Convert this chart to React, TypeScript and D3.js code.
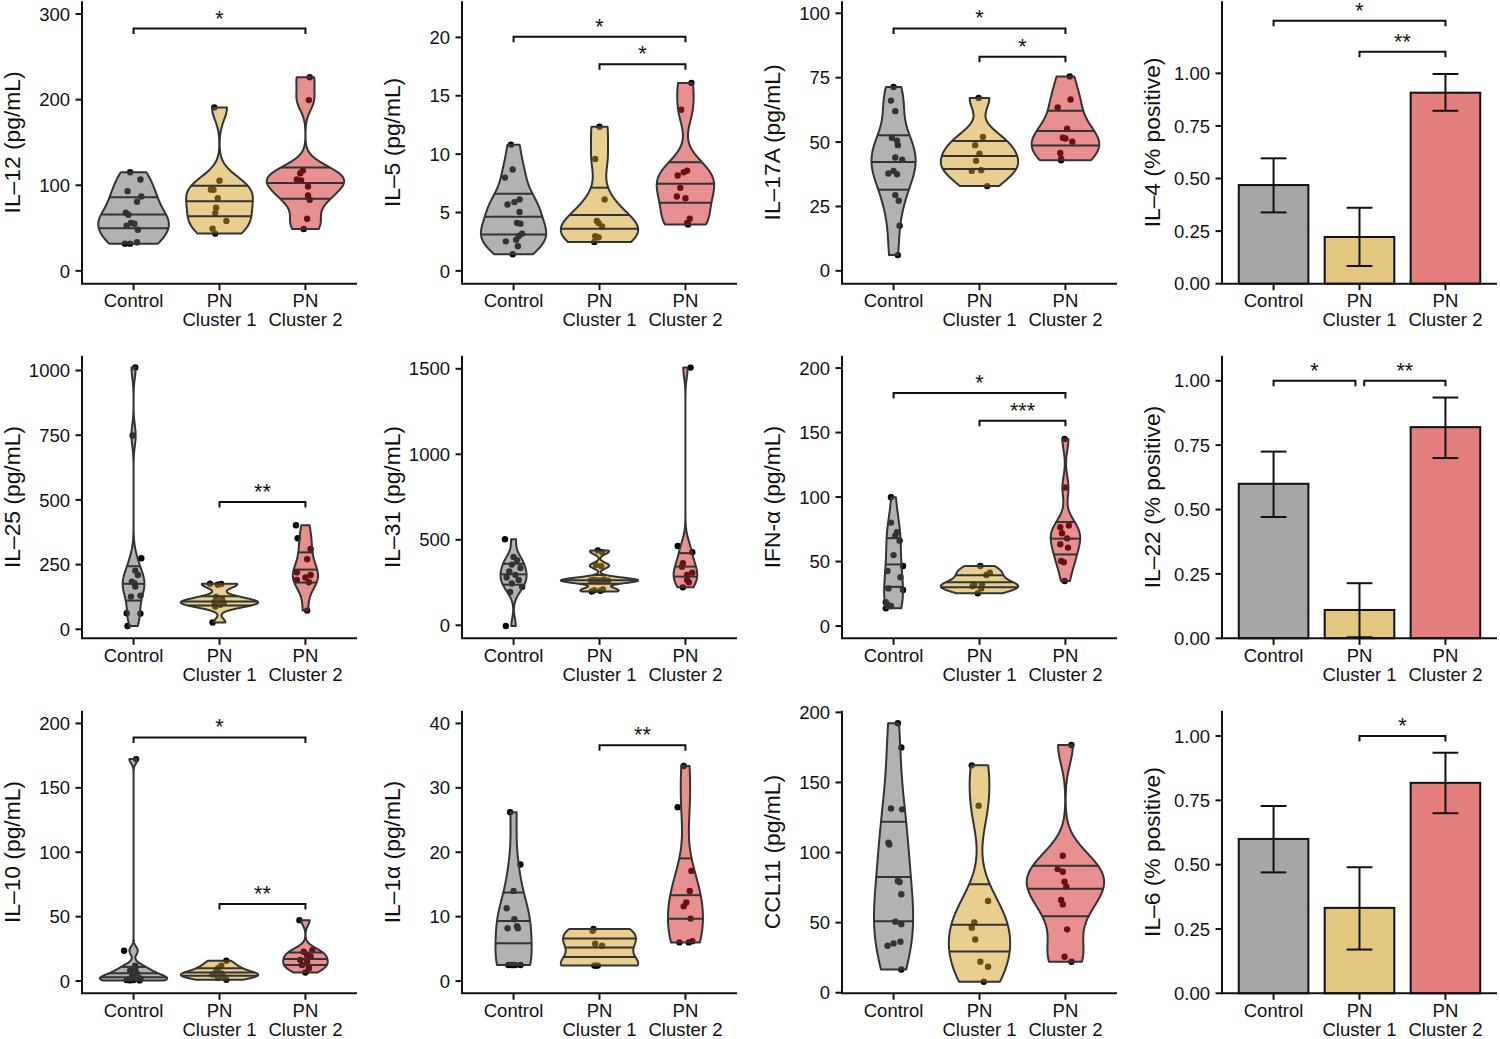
import React from "react";
import * as d3 from "d3";

const groupLines = [["Control"], ["PN", "Cluster 1"], ["PN", "Cluster 2"]];
const baseColors = ["#666666", "#d19f21", "#d12121"];

// each point: [value, jitter in category units]
const il12Control = [[115.2, -0.04], [106.7, 0.08], [93.1, -0.07], [86.9, 0.09], [80.7, 0.04], [67.9, -0.09], [65.6, -0.06], [55.9, -0.03], [55.1, 0.01], [52.8, -0.08], [48.1, 0.05], [33.4, 0.04], [31.8, -0.1], [31.8, -0.04]];
const il12Pn1 = [[190.9, -0.06], [105.2, 0], [95.1, -0.1], [94.7, -0.07], [85, -0.02], [73.7, -0.04], [67.5, -0.05], [58.2, 0.08], [49.3, -0.08], [43.5, -0.05]];
const il12Pn2 = [[226.2, 0.05], [199.5, 0.04], [117.2, -0.03], [114.1, -0.06], [106.7, -0.1], [105.5, -0.05], [98.6, 0.03], [88.1, 0.03], [83, 0.05], [60.9, 0.02], [48.9, -0.02]];

const il5Control = [[10.81, -0.03], [8.68, -0.01], [7.99, -0.1], [6.12, 0.07], [5.89, 0.01], [5.69, -0.07], [5.04, 0.07], [4.1, 0.04], [4.04, 0.08], [3.19, 0.1], [2.99, 0.06], [2.67, 0.03], [2.53, -0.09], [2.11, 0.05], [1.42, -0.01]];
const il5Pn1 = [[12.35, 0], [9.59, -0.05], [6.12, 0.06], [4.27, -0.03], [4.1, -0.01], [3.81, 0.03], [2.96, -0.05], [2.87, -0.01], [2.48, -0.06]];
const il5Pn2 = [[16.1, 0.07], [13.8, -0.05], [8.59, 0.02], [8.45, -0.02], [8.17, -0.09], [7.11, -0.06], [6.37, -0.1], [6.23, 0], [4.47, 0.05], [4.1, 0.02], [3.98, 0.03]];

const il17Control = [[71.4, 0], [66.1, -0.03], [62, 0.02], [51.7, -0.02], [50.5, 0.04], [48.8, 0.05], [44, 0.02], [43.2, 0.1], [38.8, 0], [37.8, -0.06], [37.5, 0.04], [29.4, 0.02], [27.2, 0.06], [17.5, 0.07], [6.1, 0.05]];
const il17Pn1 = [[67.1, -0.01], [52, 0.04], [48.8, -0.05], [45.5, 0], [42.7, -0.04], [39.1, 0.02], [38.8, -0.09], [32.9, 0.09]];
const il17Pn2 = [[75.5, 0.05], [66.5, 0.06], [63.4, -0.09], [55.2, 0.02], [51.7, -0.03], [51.4, 0], [50.1, 0.08], [45.8, -0.06], [43.5, -0.05], [42.9, -0.05]];

const il25Control = [[1011.6, 0.02], [748.7, -0.01], [274.5, 0.09], [226.8, 0.02], [210, 0.05], [184.3, -0.02], [177.8, 0.01], [165, 0.02], [130.2, 0.08], [126.3, -0.03], [61.9, -0.08], [60.6, 0.08], [12.9, -0.07]];
const il25Pn1 = [[176, -0.11], [175, 0.02], [172, -0.02], [125, -0.04], [115, 0.03], [108, 0.02], [105, -0.06], [102, 0.05], [100, -0.03], [95, 0.01], [88, -0.05], [26, -0.08]];
const il25Pn2 = [[402, -0.11], [351.8, -0.09], [310.6, 0.06], [270.6, 0.02], [220, -0.1], [210, 0.06], [200, 0], [190.7, -0.1], [181.7, 0.04], [72.2, 0.02]];

const il31Control = [[503, -0.1], [400, 0], [380, 0.04], [355, -0.02], [335, 0.08], [315, -0.05], [295, 0.02], [280, -0.08], [265, 0.06], [245, -0.02], [225, 0.1], [195, -0.04], [-4, -0.09]];
const il31Pn1 = [[437, -0.02], [428, 0.03], [352, -0.04], [346, 0.02], [268, 0.05], [266, -0.07], [264, -0.03], [263, 0.02], [262, -0.1], [261, 0.1], [259, 0.06], [257, 0], [210, 0.04], [206, -0.06], [202, 0.01], [198, -0.09]];
const il31Pn2 = [[1507, 0.06], [464, -0.09], [427, 0.08], [363, -0.03], [343, -0.04], [308, 0.08], [295, 0.02], [265, 0.02], [252, 0.04], [222, -0.03]];

const ifnControl = [[99.9, -0.03], [80.2, -0.03], [72.7, 0.04], [70, 0.02], [66.2, 0.07], [55, 0], [46.6, 0.11], [42.7, -0.07], [37.8, 0.08], [29.2, -0.06], [27.9, 0.11], [18.4, -0.09], [16.8, -0.07], [15.5, -0.03], [13.7, -0.09]];
const ifnPn1 = [[46.6, 0.01], [41.4, 0.12], [39.6, 0.08], [32.3, -0.06], [31.8, 0.03], [31, -0.08], [29.2, 0.02], [25.4, -0.02]];
const ifnPn2 = [[145, -0.01], [107.4, 0], [77.9, 0.04], [76.6, -0.06], [71.9, -0.04], [68, 0.02], [63.4, -0.06], [60.8, 0.03], [50.5, -0.05], [49.4, -0.02], [34.9, -0.01]];

const il10Control = [[172.3, 0.03], [23.5, -0.11], [12, 0.02], [9.3, 0.02], [8, -0.04], [6, 0.04], [4, -0.01], [3.4, -0.02], [2, 0.08], [1, -0.06], [0.8, -0.08], [0.8, 0], [0.5, 0.07], [0.5, -0.04]];
const il10Pn1 = [[15.8, 0.08], [12, 0.02], [9.8, -0.02], [7, -0.04], [6, 0.02], [5, -0.08], [4, 0.04], [2.5, -0.02], [1, 0.08]];
const il10Pn2 = [[47.3, -0.07], [24, 0.08], [22.8, -0.02], [20, 0.02], [18.9, 0.06], [16.3, -0.06], [15, 0.02], [12.4, -0.04], [11, 0.04], [9.8, 0.04], [6.7, 0]];

const il1aControl = [[26.2, -0.04], [18.1, 0.08], [14, 0], [11.3, -0.08], [9.6, 0.01], [8.5, 0.04], [8.2, -0.07], [8.2, 0.05], [2.5, -0.06], [2.5, -0.02], [2.5, 0.02], [2.5, 0.08], [2.5, 0]];
const il1aPn1 = [[8.1, -0.07], [7.8, -0.08], [5.8, -0.05], [5.5, 0.03], [2.4, -0.06], [2.4, -0.04], [2.4, -0.02]];
const il1aPn2 = [[33.4, -0.02], [27, -0.09], [17.1, 0.07], [14, 0.05], [12.2, 0.01], [11.6, -0.02], [9.7, 0.06], [6.2, 0.08], [6, 0.04], [6, -0.07]];

const ccl11Control = [[192.2, 0.05], [175, 0.09], [131.5, -0.03], [130.8, 0.1], [107, -0.06], [105.8, -0.05], [79.7, 0.05], [79, 0.07], [70.2, 0.09], [50.7, 0.02], [48.8, 0.09], [36.4, 0.08], [35.2, 0], [33.5, -0.07], [16.6, 0.09]];
const ccl11Pn1 = [[162.2, -0.09], [133.4, -0.01], [65.4, 0.1], [50.2, -0.06], [46.4, -0.09], [38, -0.05], [22.1, 0.01], [18.5, 0.1], [7.8, 0.05]];
const ccl11Pn2 = [[176.7, 0.07], [97.7, -0.03], [88.2, -0.09], [86.3, -0.03], [79.2, -0.01], [75.6, 0.01], [66.1, -0.05], [63, -0.03], [45.2, 0.02], [25.7, -0.01], [22.1, 0.07]];

// proportion positive: mean, lower, upper
const il4Mean = [0.469, 0.222, 0.908];
const il4Lo = [0.339, 0.084, 0.822];
const il4Hi = [0.596, 0.361, 0.997];
const il22Mean = [0.6, 0.11, 0.82];
const il22Lo = [0.471, 0.004, 0.7];
const il22Hi = [0.725, 0.214, 0.935];
const il6Mean = [0.6, 0.332, 0.818];
const il6Lo = [0.47, 0.17, 0.7];
const il6Hi = [0.728, 0.49, 0.935];

// significance brackets: [from, to, y, label]
const il12Sig = [[1, 3, 283, "*"]];
const il5Sig = [[1, 3, 20.05, "*"], [2, 3, 17.7, "*"]];
const il17Sig = [[1, 3, 94.1, "*"], [2, 3, 83.1, "*"]];
const il4Sig = [[1, 3, 1.25, "*"], [2, 3, 1.103, "**"]];
const il25Sig = [[2, 3, 492, "**"]];
const ifnSig = [[1, 3, 180.6, "*"], [2, 3, 159.1, "***"]];
const il22Sig = [[1, 1.953, 1.0, "*"], [2.055, 3, 1.0, "**"]];
const il10Sig = [[1, 3, 189.1, "*"], [2, 3, 59.8, "**"]];
const il1aSig = [[2, 3, 36.6, "**"]];
const il6Sig = [[2, 3, 1.0, "*"]];

const countTicks = [0, 100, 200, 300];
const il5Ticks = [0, 5, 10, 15, 20];
const il17Ticks = [0, 25, 50, 75, 100];
const il25Ticks = [0, 250, 500, 750, 1000];
const il31Ticks = [0, 500, 1000, 1500];
const by50Ticks = [0, 50, 100, 150, 200];
const il1aTicks = [0, 10, 20, 30, 40];
const propTicks = [0, 0.25, 0.5, 0.75, 1];

const panels = [
  { row: 0, col: 0, kind: "violin", title: "IL\u201312 (pg/mL)", data: [il12Control, il12Pn1, il12Pn2], domain: [-15, 315], ticks: countTicks, sig: il12Sig },
  { row: 0, col: 1, kind: "violin", title: "IL\u20135 (pg/mL)", data: [il5Control, il5Pn1, il5Pn2], domain: [-1.1, 23.1], ticks: il5Ticks, sig: il5Sig },
  { row: 0, col: 2, kind: "violin", title: "IL\u201317A (pg/mL)", data: [il17Control, il17Pn1, il17Pn2], domain: [-5, 104.7], ticks: il17Ticks, sig: il17Sig },
  { row: 0, col: 3, kind: "bar", title: "IL\u20134 (% positive)", mean: il4Mean, lo: il4Lo, hi: il4Hi, domain: [0, 1.343], ticks: propTicks, sig: il4Sig },
  { row: 1, col: 0, kind: "violin", title: "IL\u201325 (pg/mL)", data: [il25Control, il25Pn1, il25Pn2], domain: [-34.8, 1056.8], ticks: il25Ticks, sig: il25Sig },
  { row: 1, col: 1, kind: "violin", title: "IL\u201331 (pg/mL)", data: [il31Control, il31Pn1, il31Pn2], domain: [-76, 1576], ticks: il31Ticks, sig: [] },
  { row: 1, col: 2, kind: "violin", title: "IFN-\u03b1 (pg/mL)", data: [ifnControl, ifnPn1, ifnPn2], domain: [-9.5, 209.5], ticks: by50Ticks, sig: ifnSig },
  { row: 1, col: 3, kind: "bar", title: "IL\u201322 (% positive)", mean: il22Mean, lo: il22Lo, hi: il22Hi, domain: [0, 1.097], ticks: propTicks, sig: il22Sig },
  { row: 2, col: 0, kind: "violin", title: "IL\u201310 (pg/mL)", data: [il10Control, il10Pn1, il10Pn2], domain: [-9.5, 209.8], ticks: by50Ticks, sig: il10Sig },
  { row: 2, col: 1, kind: "violin", title: "IL\u20131\u03b1 (pg/mL)", data: [il1aControl, il1aPn1, il1aPn2], domain: [-1.9, 41.96], ticks: il1aTicks, sig: il1aSig },
  { row: 2, col: 2, kind: "violin", title: "CCL11 (pg/mL)", data: [ccl11Control, ccl11Pn1, ccl11Pn2], domain: [-0.4, 201.1], ticks: by50Ticks, sig: [] },
  { row: 2, col: 3, kind: "bar", title: "IL\u20136 (% positive)", mean: il6Mean, lo: il6Lo, hi: il6Hi, domain: [0, 1.098], ticks: propTicks, sig: il6Sig },
];

const rowBottom = [283.7, 638.3, 993.3];
const panelH = 282.5;
const colAxis = [82, 462, 842, 1222];
const colLeft = [0, 380, 760, 1140];
const plotW = 275;
const ink = "#111";
const outline = "#333";

// gaussian kde like R density(bw = "nrd0"), trimmed to data range
function kde(values: number[]) {
  const v = values.slice().sort(d3.ascending);
  const n = v.length;
  const sd = d3.deviation(v) || 1;
  const iqr = (d3.quantileSorted(v, 0.75) as number) - (d3.quantileSorted(v, 0.25) as number);
  let lo = Math.min(sd, iqr / 1.34);
  if (!(lo > 0)) lo = sd || 1;
  const bw = 0.9 * lo * Math.pow(n, -0.2);
  const [mn, mx] = d3.extent(v) as [number, number];
  const grid = d3.range(512).map((k) => mn + ((mx - mn) * k) / 511);
  const dens = grid.map((g) => d3.sum(v, (x) => Math.exp(-0.5 * ((g - x) / bw) ** 2)) / (n * bw * Math.sqrt(2 * Math.PI)));
  return { grid, dens };
}

function densQuantile(grid: number[], dens: number[], q: number) {
  const total = d3.sum(dens);
  let cum = 0;
  const ecdf = dens.map((d) => (cum += d) / total);
  for (let k = 1; k < ecdf.length; k++) {
    if (ecdf[k] >= q) {
      const t = (q - ecdf[k - 1]) / (ecdf[k] - ecdf[k - 1] || 1);
      return { y: grid[k - 1] + t * (grid[k] - grid[k - 1]), d: dens[k - 1] + t * (dens[k] - dens[k - 1]) };
    }
  }
  return { y: grid[grid.length - 1], d: dens[dens.length - 1] };
}

function Panel({ p }: { p: any }) {
  const ax = colAxis[p.col];
  const bottom = rowBottom[p.row];
  const top = bottom - panelH;
  const x = d3.scaleLinear().domain([0.4, 3.6]).range([ax, ax + plotW]);
  const y = d3.scaleLinear().domain(p.domain).range([bottom, top]);
  const unit = x(1) - x(0);
  const fmt = p.kind === "bar" ? d3.format(".2f") : d3.format("d");
  const line = d3.line();

  let marks: React.ReactNode = null;
  if (p.kind === "violin") {
    const stats = p.data.map((g: number[][]) => kde(g.map((d) => d[0])));
    const maxD = d3.max(stats, (s: any) => d3.max(s.dens as number[])) as number;
    marks = (
      <g>
        {p.data.map((g: number[][], i: number) =>
          g.map(([v, j], k) => <circle key={`p${i}-${k}`} cx={x(i + 1 + j)} cy={y(v)} r={3.2} fill="#000" />)
        )}
        {stats.map((s: any, i: number) => {
          const cx = x(i + 1);
          const half = (d: number) => (d / maxD) * 0.45 * unit;
          const right = s.grid.map((v: number, k: number) => [cx + half(s.dens[k]), y(v)]);
          const left = s.grid.map((v: number, k: number) => [cx - half(s.dens[k]), y(v)]).reverse();
          const qs = [0.25, 0.5, 0.75].map((q) => densQuantile(s.grid, s.dens, q));
          return (
            <g key={`v${i}`}>
              <path d={(line([...right, ...left]) as string) + "Z"} fill={baseColors[i]} fillOpacity={0.5} stroke={outline} strokeWidth={2} strokeLinejoin="round" />
              {qs.map((q, k) => (
                <line key={k} x1={cx - half(q.d)} x2={cx + half(q.d)} y1={y(q.y)} y2={y(q.y)} stroke={outline} strokeWidth={2} />
              ))}
            </g>
          );
        })}
      </g>
    );
  } else {
    marks = (
      <g>
        {p.mean.map((m: number, i: number) => (
          <rect key={`b${i}`} x={x(i + 1 - 0.405)} width={0.81 * unit} y={y(m)} height={y(0) - y(m)} fill={baseColors[i]} fillOpacity={0.58} stroke={ink} strokeWidth={2} />
        ))}
        {p.mean.map((m: number, i: number) => {
          const cx = x(i + 1);
          const w = 0.15 * unit;
          return (
            <g key={`e${i}`} stroke={ink} strokeWidth={2}>
              <line x1={cx} x2={cx} y1={y(p.lo[i])} y2={y(p.hi[i])} />
              <line x1={cx - w} x2={cx + w} y1={y(p.lo[i])} y2={y(p.lo[i])} />
              <line x1={cx - w} x2={cx + w} y1={y(p.hi[i])} y2={y(p.hi[i])} />
            </g>
          );
        })}
      </g>
    );
  }

  return (
    <g>
      {marks}
      {p.sig.map(([a, b, v, label]: any[], k: number) => {
        const yy = y(v);
        return (
          <g key={`s${k}`}>
            <path d={`M${x(a)},${yy + 5.5}V${yy}H${x(b)}V${yy + 5.5}`} fill="none" stroke={ink} strokeWidth={2} />
            <text x={(x(a) + x(b)) / 2} y={yy - 3} textAnchor="middle" fontSize={21.5} fill={ink}>
              {label}
            </text>
          </g>
        );
      })}
      {/* axes */}
      <line x1={ax} x2={ax} y1={top} y2={bottom} stroke={ink} strokeWidth={2} />
      <line x1={ax - 1} x2={ax + plotW} y1={bottom} y2={bottom} stroke={ink} strokeWidth={2} />
      {p.ticks.map((t: number) => (
        <g key={`t${t}`}>
          <line x1={ax - 6.5} x2={ax} y1={y(t)} y2={y(t)} stroke={ink} strokeWidth={2} />
          <text x={ax - 12} y={y(t)} dy="0.36em" textAnchor="end" fontSize={18.5} fill={ink}>
            {fmt(t)}
          </text>
        </g>
      ))}
      {groupLines.map((lines, i) => (
        <g key={`x${i}`}>
          <line x1={x(i + 1)} x2={x(i + 1)} y1={bottom} y2={bottom + 6.5} stroke={ink} strokeWidth={2} />
          {lines.map((s, k) => (
            <text key={k} x={x(i + 1)} y={bottom + 23.5 + k * 19} textAnchor="middle" fontSize={18.5} fill={ink}>
              {s}
            </text>
          ))}
        </g>
      ))}
      <text transform={`translate(${colLeft[p.col] + 20},${(top + bottom) / 2}) rotate(-90)`} textAnchor="middle" fontSize={22.8} fill={ink}>
        {p.title}
      </text>
    </g>
  );
}

export default function App() {
  return (
    <svg
      width={1500}
      height={1039}
      style={{ position: "absolute", left: 0, top: 0, background: "#fff" }}
      fontFamily="'Liberation Sans', Arial, Helvetica, sans-serif"
    >
      <rect width={1500} height={1039} fill="#fff" />
      {panels.map((p, i) => (
        <Panel key={i} p={p} />
      ))}
    </svg>
  );
}
